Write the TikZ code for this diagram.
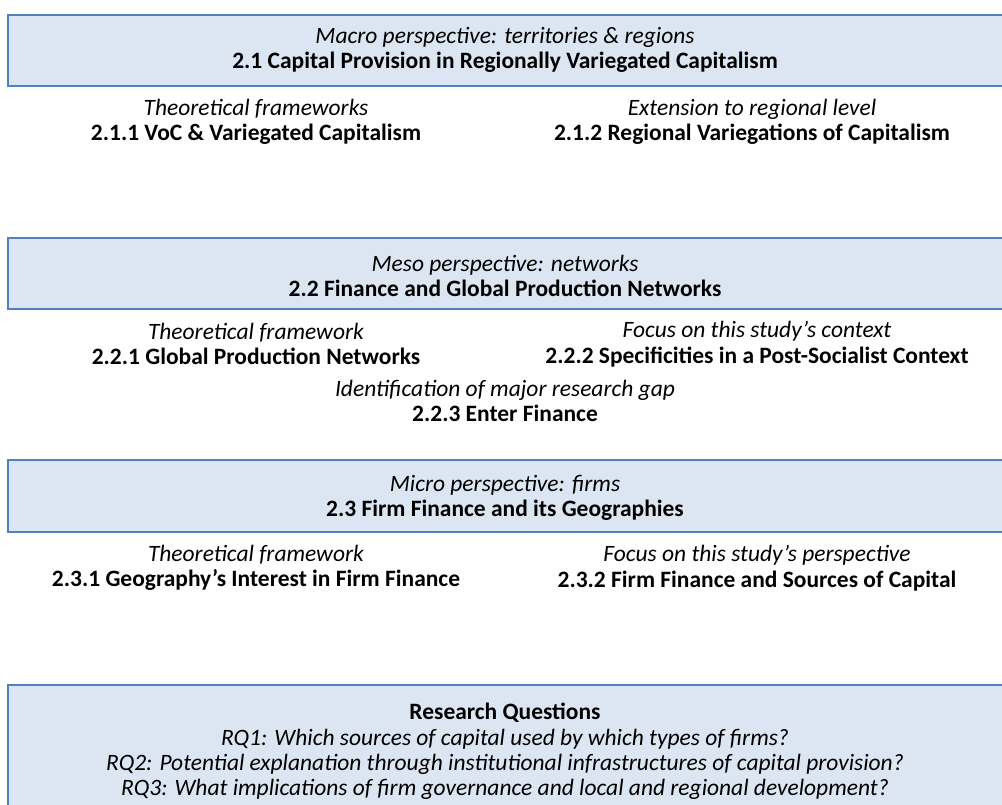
\documentclass[tikz,border=0pt]{standalone}
\usepackage{fontspec}
\setmainfont{Carlito}
\usepackage{tikz}
\usepackage{xcolor}
\usetikzlibrary{positioning}
\definecolor{boxline}{HTML}{4F81BD}
\definecolor{boxfill}{HTML}{DCE6F2}
\tikzset{
    %Define style for boxes
    secbox/.style={
        rectangle,
        draw=boxline, line width=1.2pt,
        fill=boxfill,
        minimum width=747pt,
        inner sep=0pt,
    },
    txt/.style={
        draw = none,
        align = center,
        inner sep = 0pt,
        font = \fontsize{17.6}{19.1}\selectfont,
    },
}

\begin{document}
\begin{tikzpicture}[x=0.75pt,y=-0.75pt]
		\clip (0,0) rectangle (1002,805);
		\fill[white] (0,0) rectangle (1002,805);

		% macro level
		\node[secbox, minimum height=53.25pt] (macro) at (506,50.5) {};
		\node[txt] (macrotxt) at (505,50) {\textit{Macro perspective: territories \& regions}\\ \textbf{2.1 Capital Provision in Regionally Variegated Capitalism}};
		\node[txt] (voc) at (256,122) {\textit{Theoretical frameworks}\\ \textbf{2.1.1 VoC \& Variegated Capitalism}};
		\node[txt] (regvar) at (752,122) {\textit{Extension to regional level}\\ \textbf{2.1.2 Regional Variegations of Capitalism}};

		% meso level
		\node[secbox, minimum height=53.25pt] (meso) at (506,273.5) {};
		\node[txt] (mesotxt) at (505,276) {\textit{Meso perspective: networks}\\ \textbf{2.2 Finance and Global Production Networks}};
		\node[txt] (gpn) at (256,344) {\textit{Theoretical framework}\\ \textbf{2.2.1 Global Production Networks}};
		\node[txt] (postsoc) at (757,344) {\textit{Focus on this study’s context}\\ \textbf{2.2.2 Specificities in a Post-Socialist Context}};
		\node[txt] (enter) at (505,401) {\textit{Identification of major research gap}\\ \textbf{2.2.3 Enter Finance}};

		% micro level
		\node[secbox, minimum height=54pt] (micro) at (506,496) {};
		\node[txt] (microtxt) at (505,498) {\textit{Micro perspective: firms}\\ \textbf{2.3 Firm Finance and its Geographies}};
		\node[txt] (geo) at (256,568) {\textit{Theoretical framework}\\ \textbf{2.3.1 Geography’s Interest in Firm Finance}};
		\node[txt] (sources) at (757,568) {\textit{Focus on this study’s perspective}\\ \textbf{2.3.2 Firm Finance and Sources of Capital}};

		% research questions
		\node[secbox, minimum height=112.5pt] (rq) at (506,760) {};
		\node[txt] (rqtxt) at (505,751.5) {\textbf{Research Questions}\\
			\textit{RQ1: Which sources of capital used by which types of firms?}\\
			\textit{RQ2: Potential explanation through institutional infrastructures of capital provision?}\\
			\textit{RQ3: What implications of firm governance and local and regional development?}};
	\end{tikzpicture}
\end{document}
